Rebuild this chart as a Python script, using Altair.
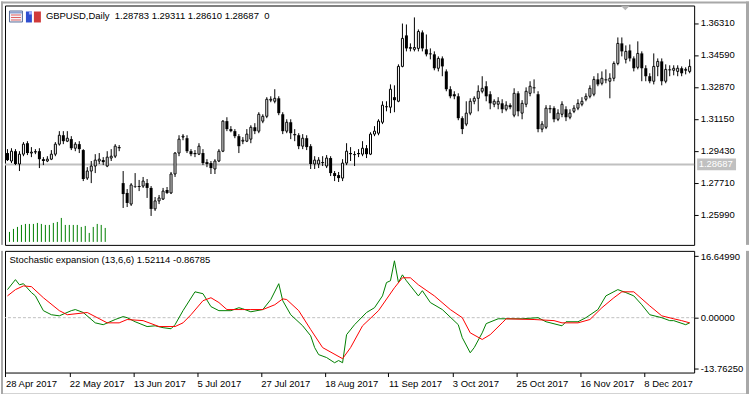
import altair as alt
import pandas as pd

# ---------------- data ----------------
header_text = "GBPUSD,Daily\u00a0\u00a01.28783 1.29311 1.28610 1.28687\u00a0\u00a00"
indicator_text = "Stochastic expansion (13,6,6) 1.52114 -0.86785"
bid_price = [1.28687]
bid_label = ["1.28687"]

date_labels = ["28 Apr 2017", "22 May 2017", "13 Jun 2017", "5 Jul 2017", "27 Jul 2017",
               "18 Aug 2017", "11 Sep 2017", "3 Oct 2017", "25 Oct 2017", "16 Nov 2017", "8 Dec 2017"]
date_bars = [0, 16, 32, 48, 64, 80, 96, 112, 128, 144, 160]
price_ticks = [1.25990, 1.27710, 1.29430, 1.31150, 1.32870, 1.34590, 1.36310]
ind_ticks = [-13.76250, 0.0, 16.64990]

opens = [1.2930, 1.2887, 1.2940, 1.2871, 1.2924, 1.2983, 1.2930, 1.2935, 1.2940, 1.2897,
         1.2887, 1.2897, 1.2924, 1.2978, 1.3026, 1.2994, 1.3005, 1.2956, 1.2978, 1.2946,
         1.2795, 1.2833, 1.2860, 1.2887, 1.2892, 1.2860, 1.2903, 1.2913, 1.2962, 1.2768,
         1.2715, 1.2655, 1.2752, 1.2752, 1.2752, 1.2768, 1.2742, 1.2629, 1.2672, 1.2682,
         1.2731, 1.2715, 1.2817, 1.2930, 1.3016, 1.3010, 1.2940, 1.2930, 1.2924, 1.2930,
         1.2881, 1.2876, 1.2844, 1.2887, 1.2940, 1.3102, 1.3059, 1.3048, 1.3021, 1.2994,
         1.2994, 1.3005, 1.3069, 1.3048, 1.3102, 1.3128, 1.3215, 1.3209, 1.3225, 1.3139,
         1.3048, 1.3096, 1.3032, 1.3026, 1.2967, 1.3010, 1.2967, 1.2871, 1.2871, 1.2881,
         1.2860, 1.2903, 1.2822, 1.2811, 1.2795, 1.2876, 1.2930, 1.2924, 1.2930, 1.2924,
         1.2956, 1.2924, 1.3032, 1.3037, 1.3096, 1.3182, 1.3177, 1.3231, 1.3209, 1.3397,
         1.3564, 1.3494, 1.3489, 1.3494, 1.3580, 1.3489, 1.3467, 1.3462, 1.3387, 1.3440,
         1.3370, 1.3274, 1.3247, 1.3236, 1.3118, 1.3086, 1.3145, 1.3209, 1.3225, 1.3263,
         1.3290, 1.3247, 1.3193, 1.3193, 1.3198, 1.3166, 1.3188, 1.3134, 1.3252, 1.3145,
         1.3193, 1.3252, 1.3284, 1.3247, 1.3059, 1.3069, 1.3172, 1.3172, 1.3112, 1.3139,
         1.3166, 1.3123, 1.3155, 1.3172, 1.3193, 1.3220, 1.3236, 1.3247, 1.3327, 1.3306,
         1.3327, 1.3317, 1.3333, 1.3413, 1.3521, 1.3435, 1.3483, 1.3440, 1.3392, 1.3467,
         1.3387, 1.3344, 1.3317, 1.3397, 1.3424, 1.3317, 1.3381, 1.3376, 1.3370, 1.3387,
         1.3376, 1.3370]
highs = [1.2951, 1.2956, 1.2951, 1.2940, 1.2989, 1.2994, 1.2962, 1.2951, 1.2956, 1.2908,
         1.2913, 1.2946, 1.2989, 1.3048, 1.3048, 1.3048, 1.3021, 1.2989, 1.2994, 1.2951,
         1.2854, 1.2887, 1.2924, 1.2930, 1.2908, 1.2940, 1.2951, 1.2978, 1.2973, 1.2833,
         1.2736, 1.2768, 1.2822, 1.2785, 1.2801, 1.2790, 1.2752, 1.2693, 1.2704, 1.2742,
         1.2747, 1.2828, 1.2935, 1.3026, 1.3032, 1.3026, 1.2951, 1.2946, 1.2983, 1.2951,
         1.2897, 1.2887, 1.2897, 1.2951, 1.3107, 1.3123, 1.3075, 1.3059, 1.3032, 1.3016,
         1.3059, 1.3080, 1.3091, 1.3150, 1.3139, 1.3231, 1.3236, 1.3274, 1.3236, 1.3150,
         1.3112, 1.3112, 1.3059, 1.3037, 1.3032, 1.3026, 1.2978, 1.2913, 1.2908, 1.2913,
         1.2919, 1.2913, 1.2833, 1.2828, 1.2897, 1.2983, 1.2962, 1.2940, 1.2951, 1.2994,
         1.2973, 1.3042, 1.3075, 1.3112, 1.3209, 1.3209, 1.3300, 1.3295, 1.3408, 1.3628,
         1.3623, 1.3521, 1.3661, 1.3596, 1.3591, 1.3569, 1.3494, 1.3478, 1.3451, 1.3451,
         1.3381, 1.3290, 1.3263, 1.3252, 1.3128, 1.3209, 1.3225, 1.3236, 1.3295, 1.3344,
         1.3317, 1.3263, 1.3220, 1.3231, 1.3220, 1.3209, 1.3198, 1.3279, 1.3263, 1.3215,
         1.3284, 1.3317, 1.3327, 1.3263, 1.3102, 1.3188, 1.3188, 1.3182, 1.3166, 1.3209,
         1.3182, 1.3166, 1.3188, 1.3220, 1.3231, 1.3252, 1.3295, 1.3344, 1.3360, 1.3370,
         1.3381, 1.3360, 1.3424, 1.3553, 1.3553, 1.3510, 1.3515, 1.3451, 1.3532, 1.3478,
         1.3403, 1.3360, 1.3467, 1.3440, 1.3440, 1.3408, 1.3403, 1.3403, 1.3403, 1.3397,
         1.3392, 1.3435]
lows = [1.2887, 1.2876, 1.2865, 1.2833, 1.2913, 1.2919, 1.2908, 1.2924, 1.2849, 1.2865,
        1.2881, 1.2892, 1.2913, 1.2970, 1.2978, 1.2989, 1.2946, 1.2940, 1.2930, 1.2779,
        1.2785, 1.2768, 1.2822, 1.2871, 1.2865, 1.2854, 1.2887, 1.2903, 1.2940, 1.2634,
        1.2639, 1.2645, 1.2742, 1.2725, 1.2742, 1.2688, 1.2591, 1.2618, 1.2655, 1.2677,
        1.2709, 1.2709, 1.2801, 1.2913, 1.2999, 1.2930, 1.2913, 1.2908, 1.2919, 1.2865,
        1.2854, 1.2817, 1.2817, 1.2881, 1.2935, 1.3048, 1.3042, 1.3010, 1.2930, 1.2978,
        1.2989, 1.2983, 1.3032, 1.3037, 1.3091, 1.3118, 1.3204, 1.3198, 1.3134, 1.3032,
        1.3037, 1.3005, 1.2994, 1.2951, 1.2951, 1.2946, 1.2844, 1.2844, 1.2849, 1.2860,
        1.2849, 1.2806, 1.2779, 1.2774, 1.2779, 1.2865, 1.2887, 1.2860, 1.2908, 1.2913,
        1.2903, 1.2919, 1.3021, 1.3026, 1.3086, 1.3155, 1.3145, 1.3150, 1.3204, 1.3392,
        1.3478, 1.3478, 1.3478, 1.3478, 1.3478, 1.3451, 1.3435, 1.3376, 1.3370, 1.3344,
        1.3263, 1.3225, 1.3220, 1.3107, 1.3032, 1.3075, 1.3134, 1.3193, 1.3155, 1.3252,
        1.3209, 1.3166, 1.3177, 1.3166, 1.3145, 1.3155, 1.3166, 1.3123, 1.3128, 1.3112,
        1.3177, 1.3236, 1.3252, 1.3042, 1.3042, 1.3059, 1.3145, 1.3096, 1.3102, 1.3123,
        1.3102, 1.3112, 1.3145, 1.3161, 1.3182, 1.3209, 1.3225, 1.3236, 1.3290, 1.3295,
        1.3306, 1.3225, 1.3317, 1.3403, 1.3451, 1.3413, 1.3424, 1.3370, 1.3381, 1.3317,
        1.3317, 1.3306, 1.3300, 1.3344, 1.3295, 1.3306, 1.3344, 1.3349, 1.3344, 1.3344,
        1.3354, 1.3360]
closes = [1.2892, 1.2940, 1.2871, 1.2924, 1.2978, 1.2930, 1.2935, 1.2938, 1.2897, 1.2887,
          1.2897, 1.2924, 1.2978, 1.3026, 1.2994, 1.3010, 1.2956, 1.2978, 1.2951, 1.2790,
          1.2833, 1.2860, 1.2892, 1.2897, 1.2881, 1.2908, 1.2913, 1.2967, 1.2956, 1.2709,
          1.2661, 1.2758, 1.2749, 1.2747, 1.2779, 1.2742, 1.2629, 1.2672, 1.2688, 1.2725,
          1.2715, 1.2817, 1.2930, 1.3005, 1.3021, 1.2940, 1.2924, 1.2924, 1.2967, 1.2876,
          1.2871, 1.2849, 1.2887, 1.2940, 1.3102, 1.3059, 1.3048, 1.3021, 1.2967, 1.2999,
          1.3032, 1.3069, 1.3048, 1.3139, 1.3128, 1.3220, 1.3220, 1.3225, 1.3145, 1.3048,
          1.3096, 1.3037, 1.3026, 1.2967, 1.3010, 1.2962, 1.2871, 1.2892, 1.2892, 1.2876,
          1.2903, 1.2822, 1.2806, 1.2795, 1.2876, 1.2940, 1.2924, 1.2919, 1.2924, 1.2956,
          1.2924, 1.3032, 1.3048, 1.3102, 1.3188, 1.3177, 1.3274, 1.3215, 1.3397, 1.3548,
          1.3494, 1.3499, 1.3499, 1.3585, 1.3494, 1.3462, 1.3462, 1.3387, 1.3440, 1.3397,
          1.3274, 1.3236, 1.3236, 1.3118, 1.3059, 1.3145, 1.3209, 1.3225, 1.3263, 1.3279,
          1.3236, 1.3198, 1.3209, 1.3209, 1.3166, 1.3188, 1.3177, 1.3252, 1.3155, 1.3198,
          1.3263, 1.3290, 1.3279, 1.3059, 1.3086, 1.3172, 1.3166, 1.3112, 1.3145, 1.3193,
          1.3123, 1.3145, 1.3172, 1.3198, 1.3209, 1.3236, 1.3279, 1.3327, 1.3300, 1.3333,
          1.3322, 1.3333, 1.3413, 1.3521, 1.3478, 1.3478, 1.3440, 1.3387, 1.3467, 1.3387,
          1.3344, 1.3317, 1.3397, 1.3424, 1.3317, 1.3381, 1.3376, 1.3387, 1.3387, 1.3360,
          1.3381, 1.3397]

# tick volume histogram (first bars only, arbitrary units)
volumes = [10, 13, 15, 17, 18, 18, 18, 19, 18, 17, 17, 19, 20, 24, 17, 17, 17, 17, 15, 16,
           9, 15, 18, 17, 14]

# indicator lines (bar index, value)
fast_bar = [0, 2, 3, 4, 6, 7, 9, 11, 13, 16, 17, 19, 22, 24, 27, 29, 30, 32, 35, 37,
            39, 41, 42, 44, 47, 49, 51, 53, 56, 58, 59, 61, 64, 66, 68, 69, 71, 74, 76, 77,
            78, 80, 82, 83, 84, 85, 87, 90, 92, 94, 95, 96, 97, 98, 99, 100, 103, 104, 106, 109,
            113, 114, 116, 117, 119, 120, 123, 125, 129, 133, 135, 139, 140, 143, 145, 148, 150, 153, 155, 157,
            159, 161, 164, 166, 167, 170, 171]
fast_val = [7.6, 10.3, 8.9, 9.2, 6.8, 5.9, 1.9, 0.8, 0.5, 1.9, 2.2, 1.4, -1.4, -1.9, -0.5, 0.3, 0.0, -1.1, -2.4, -2.2,
            -2.7, -3.0, -1.9, 1.9, 7.0, 6.5, 3.0, 1.9, 1.9, 2.7, 2.4, 1.6, 2.2, 4.9, 9.2, 4.6, 0.8, -2.2, -4.9, -8.1,
            -10.0, -10.8, -12.2, -11.6, -12.2, -4.6, -1.9, 1.4, 2.7, 5.9, 9.5, 10.0, 15.4, 9.5, 11.6, 10.0, 5.9, 7.3, 4.1, 2.2,
            -1.9, -5.4, -9.5, -8.1, -4.1, -1.6, -0.3, -0.3, -0.3, 0.0, -1.1, -2.2, -1.1, -1.1, 0.0, 2.2, 5.9, 7.6, 6.8, 5.9,
            3.5, 0.8, 0.0, -0.8, -0.8, -1.9, -1.4]
slow_bar = [0, 2, 4, 6, 9, 13, 15, 20, 25, 28, 30, 34, 38, 42, 44, 46, 49, 51, 53, 55,
            59, 61, 64, 67, 69, 70, 73, 76, 79, 84, 86, 89, 93, 97, 99, 101, 103, 107, 111, 114,
            116, 119, 121, 124, 125, 132, 137, 139, 143, 146, 149, 152, 154, 157, 161, 164, 167, 169, 171]
slow_val = [5.9, 7.6, 8.6, 8.4, 5.4, 1.9, 0.8, 1.4, -1.4, -1.4, -0.5, -0.8, -2.4, -2.4, -1.4, 0.8, 4.6, 5.4, 4.1, 2.2,
            2.2, 2.2, 2.2, 3.5, 5.1, 4.9, 1.9, -3.2, -8.1, -11.1, -8.1, -2.2, 1.9, 8.1, 10.8, 10.8, 8.9, 5.9, 2.2, 0.0,
            -4.1, -5.9, -4.6, -1.4, -0.3, -0.5, -0.8, -1.4, -1.4, -0.5, 2.7, 5.4, 7.0, 7.0, 3.2, 0.5, -0.3, -0.8, -1.4]

# ---------------- tables ----------------
candles = pd.DataFrame({"i": list(range(len(opens))), "open": opens, "high": highs,
                        "low": lows, "close": closes})
vol_df = pd.DataFrame({"k": list(range(len(volumes))), "vol": volumes})
fast_df = pd.DataFrame({"i": fast_bar, "v": fast_val})
slow_df = pd.DataFrame({"i": slow_bar, "v": slow_val})
bid_df = pd.DataFrame({"p": bid_price, "t": bid_label})
one = pd.DataFrame({"d": [0]})

# ---------------- styling ----------------
FONT = "Liberation Sans"
FS = 9.5
W = 691
H_MAIN = 240
H_IND = 122
FRAME = "#a8a8a8"

xs = alt.Scale(domain=[-0.625, 172.125], nice=False, zero=False, padding=0)
ps = alt.Scale(domain=[1.24351, 1.37251], nice=False, zero=False)
ins = alt.Scale(domain=[-14.85, 18.09], nice=False, zero=False)

price_axis = alt.Axis(orient="right", values=price_ticks, format=".5f", labelFont=FONT,
                      labelFontSize=FS, labelColor="black", tickColor="black", tickSize=4,
                      labelPadding=2, domain=False, grid=False, title=None,
                      labelFlush=False, labelOverlap=False)
ind_axis = alt.Axis(orient="right", values=ind_ticks,
                    labelExpr="replace(format(datum.value, '.5f'), '\u2212', '-')",
                    labelFont=FONT, labelFontSize=FS, labelColor="black", tickColor="black",
                    tickSize=4, labelPadding=2, domain=False, grid=False, title=None,
                    labelFlush=False, labelOverlap=False)
label_list = "[" + ",".join("'" + s + "'" for s in date_labels) + "]"
tick_pos = [b - 0.5 for b in date_bars]
date_axis = alt.Axis(orient="bottom", values=tick_pos,
                     labelExpr=label_list + "[round((datum.value + 0.5) / 16)]",
                     labelFont=FONT, labelFontSize=FS, labelColor="black", tickColor="black",
                     tickSize=4, labelPadding=2, labelAlign="left", domain=False, grid=False,
                     title=None, labelFlush=False, labelOverlap=False)

X = alt.X("i:Q", scale=xs, axis=None)


def box(x1, x2, y1, y2, fill, stroke=None):
    kw = dict(fill=fill)
    if stroke:
        kw.update(stroke=stroke, strokeWidth=1)
    return alt.Chart(one).mark_rect(**kw).encode(
        x=alt.value(x1), x2=alt.value(x2), y=alt.value(y1), y2=alt.value(y2))


# ---------------- main price panel ----------------
vol = alt.Chart(vol_df).transform_calculate(xpos="datum.k + 0.5", base="0").mark_rule(
    color="#008000", strokeWidth=1).encode(
    x=alt.X("xpos:Q", scale=xs, axis=None),
    y=alt.Y("base:Q", scale=alt.Scale(domain=[-3, 237], nice=False, zero=False), axis=None),
    y2="vol:Q")

bid_line = alt.Chart(bid_df).mark_rule(color="#c0c0c0", strokeWidth=2).encode(
    y=alt.Y("p:Q", scale=ps, axis=None))

wicks = alt.Chart(candles).mark_rule(color="black", strokeWidth=1).encode(
    x=X, y=alt.Y("low:Q", scale=ps, axis=price_axis), y2="high:Q")

up = alt.Chart(candles).transform_filter("datum.close >= datum.open").mark_bar(
    size=2, fill="white", stroke="black", strokeWidth=1).encode(
    x=X, y=alt.Y("open:Q", scale=ps, axis=None), y2="close:Q")

down = alt.Chart(candles).transform_filter("datum.close < datum.open").mark_bar(
    size=3, color="black").encode(
    x=X, y=alt.Y("open:Q", scale=ps, axis=None), y2="close:Q")

header = alt.Chart(pd.DataFrame({"t": [header_text]})).mark_text(
    align="left", baseline="middle", font=FONT, fontSize=FS, color="black").encode(
    x=alt.value(41), y=alt.value(11), text="t:N")

icons = [
    box(4.5, 17.5, 5.5, 16.5, "#f4f4f8", "#5a6e9a"),
    box(5, 17, 6, 8, "#8fa4d0"),
    box(6, 16, 9, 10, "#e06060"),
    box(6, 16, 11.5, 12.5, "#e06060"),
    box(6, 16, 14, 15, "#e06060"),
    box(21, 27, 6, 17, "#2f4fd0"),
    box(24, 27, 6, 9, "#9fb0ff"),
    box(29, 36, 6, 17, "#d03a3a"),
]

shift_marker = alt.Chart(one).mark_point(
    shape="M-1,-0.5L1,-0.5L0,0.5Z", size=81, filled=True, color="#b4b4b4", opacity=1,
    strokeWidth=0).encode(x=alt.value(622), y=alt.value(2.5))

bid_box = alt.Chart(bid_df).mark_point(
    shape="M-1,-0.3L1,-0.3L1,0.3L-1,0.3Z", size=1521, filled=True, color="#c0c0c0",
    opacity=1, strokeWidth=0).encode(x=alt.value(713.5), y=alt.Y("p:Q", scale=ps, axis=None))
bid_text = alt.Chart(bid_df).mark_text(
    align="left", baseline="middle", font=FONT, fontSize=FS, color="white").encode(
    x=alt.value(695.5), y=alt.Y("p:Q", scale=ps, axis=None), text="t:N")

# window frame pieces (outside the plot area)
main_frame = [
    box(-4, -2, -4, 240, FRAME),        # left edge
    box(-4, 746, -4, -2, FRAME),        # top edge
    box(743, 746, -4, 240, FRAME),      # right edge
]

main = alt.layer(vol, bid_line, wicks, up, down, header, *icons, shift_marker,
                 bid_box, bid_text, *main_frame).resolve_scale(y="independent").properties(
    width=W, height=H_MAIN)

# ---------------- indicator panel ----------------
zero = alt.Chart(pd.DataFrame({"z": [0.0]})).mark_rule(
    color="#c0c0c0", strokeWidth=1, strokeDash=[3, 2]).encode(
    y=alt.Y("z:Q", scale=ins, axis=ind_axis))
fast = alt.Chart(fast_df).mark_line(color="#008000", strokeWidth=1).encode(
    x=alt.X("i:Q", scale=xs, axis=date_axis), y=alt.Y("v:Q", scale=ins, axis=ind_axis))
slow = alt.Chart(slow_df).mark_line(color="#ff0000", strokeWidth=1).encode(
    x=alt.X("i:Q", scale=xs, axis=date_axis), y=alt.Y("v:Q", scale=ins, axis=ind_axis))
ind_title = alt.Chart(pd.DataFrame({"t": [indicator_text]})).mark_text(
    align="left", baseline="middle", font=FONT, fontSize=FS, color="black").encode(
    x=alt.value(4.5), y=alt.value(9), text="t:N")

ind_frame = [
    box(-4, -2, 0, 146, FRAME),
    box(743, 746, 0, 146, FRAME),
    box(-4, 746, 143, 146, FRAME),
]

ind = alt.layer(zero, fast, slow, ind_title, *ind_frame).properties(width=W, height=H_IND)

chart = alt.vconcat(main, ind, spacing=4).properties(
    padding={"left": 0, "top": 0, "right": 0, "bottom": 0},
    background="white").configure_view(stroke="black", strokeWidth=1)

chart.save("out.html", embed_options={"renderer": "svg", "actions": False})
